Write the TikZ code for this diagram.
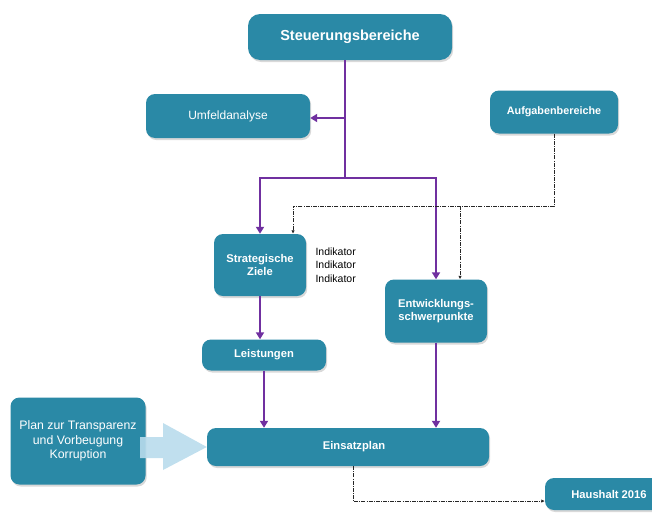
\documentclass[tikz,border=0pt]{standalone}
\usepackage{fontspec}
\setmainfont{Liberation Sans}
\usetikzlibrary{arrows.meta,shadows}
\definecolor{boxteal}{RGB}{42,137,166}
\definecolor{flowviolet}{RGB}{112,48,160}
\definecolor{paleblue}{RGB}{185,220,236}
\tikzset{
  block/.style={fill=boxteal, rounded corners=9pt, text=white, align=center, inner sep=0pt,
    font=\bfseries\fontsize{11.2}{13}\selectfont,
    drop shadow={opacity=0.3, shadow xshift=1.2pt, shadow yshift=-2pt}},
  plainblock/.style={block, font=\fontsize{12.3}{14.5}\selectfont},
  flow/.style={flowviolet, line width=2.2pt, -{Triangle[length=7pt,width=8pt]}},
  feed/.style={black!85, line width=0.7pt, dash pattern=on 4pt off 1.2pt on 0.8pt off 1.2pt,
    -{Latex[length=3.5pt,width=3.5pt]}},
}
\begin{document}
\begin{tikzpicture}[x=1pt, y=-1pt]
  \useasboundingbox (0,0) rectangle (652,514);
  \node[block, minimum width=204, minimum height=46, rounded corners=12pt,
    font=\bfseries\fontsize{14.5}{16}\selectfont] (steer) at (350,37) {Steuerungsbereiche};
  \node[plainblock, minimum width=164, minimum height=44, font=\fontsize{12}{14}\selectfont]
    (umfeld) at (228,116) {Umfeldanalyse};
  \node[block, minimum width=128, minimum height=43, font=\bfseries\fontsize{10.8}{12}\selectfont]
    (aufg) at (554,112) {Aufgabenbereiche};
  \node[block, minimum width=92, minimum height=62] (ziele) at (260,265) {Strategische\\Ziele};
  \node[anchor=north west, align=left, font=\fontsize{10.5}{13.5}\selectfont]
    (ind) at (312,244) {Indikator\\Indikator\\Indikator};
  \node[block, minimum width=102, minimum height=63] (entw) at (436,311) {Entwicklungs-\\schwerpunkte};
  \node[block, minimum width=124, minimum height=31] (leist) at (264,355) {Leistungen};
  \node[plainblock, minimum width=135, minimum height=87] (plan) at (78,441)
    {Plan zur Transparenz\\und Vorbeugung\\Korruption};
  \node[block, minimum width=282, minimum height=38] (einsatz) at (348,447) {\hspace*{12pt}Einsatzplan};
  \node[block, minimum width=128, minimum height=32] (haus) at (609,494) {Haushalt 2016};

  \coordinate (split) at (345,178);
  \coordinate (side) at (345,118);
  \draw[flowviolet, line width=2.2pt] (steer.south -| split) -- (split);
  \draw[flow] (side) -- (side -| umfeld.east);
  \draw[flow] (split) -| (ziele.north);
  \draw[flow] (split) -| (entw.north);
  \draw[flow] (ziele.south) -- (ziele.south |- leist.north);
  \draw[flow] (leist.south) -- (leist.south |- einsatz.north);
  \draw[flow] (entw.south) -- (entw.south |- einsatz.north);

  \coordinate (bend) at (293,206);
  \coordinate (branch) at (460,206);
  \draw[feed] (aufg.south) |- (bend) -- (bend |- ziele.north);
  \draw[feed] (branch) -- (branch |- entw.north);
  \coordinate (low) at (353,501);
  \draw[feed] (einsatz.south -| low) -- (low) -- (low -| haus.west);

  \fill[paleblue, opacity=0.9] (140,437) -- (163,437) -- (163,423) -- (einsatz.west)
    -- (163,470) -- (163,458) -- (140,458) -- cycle;
\end{tikzpicture}
\end{document}
